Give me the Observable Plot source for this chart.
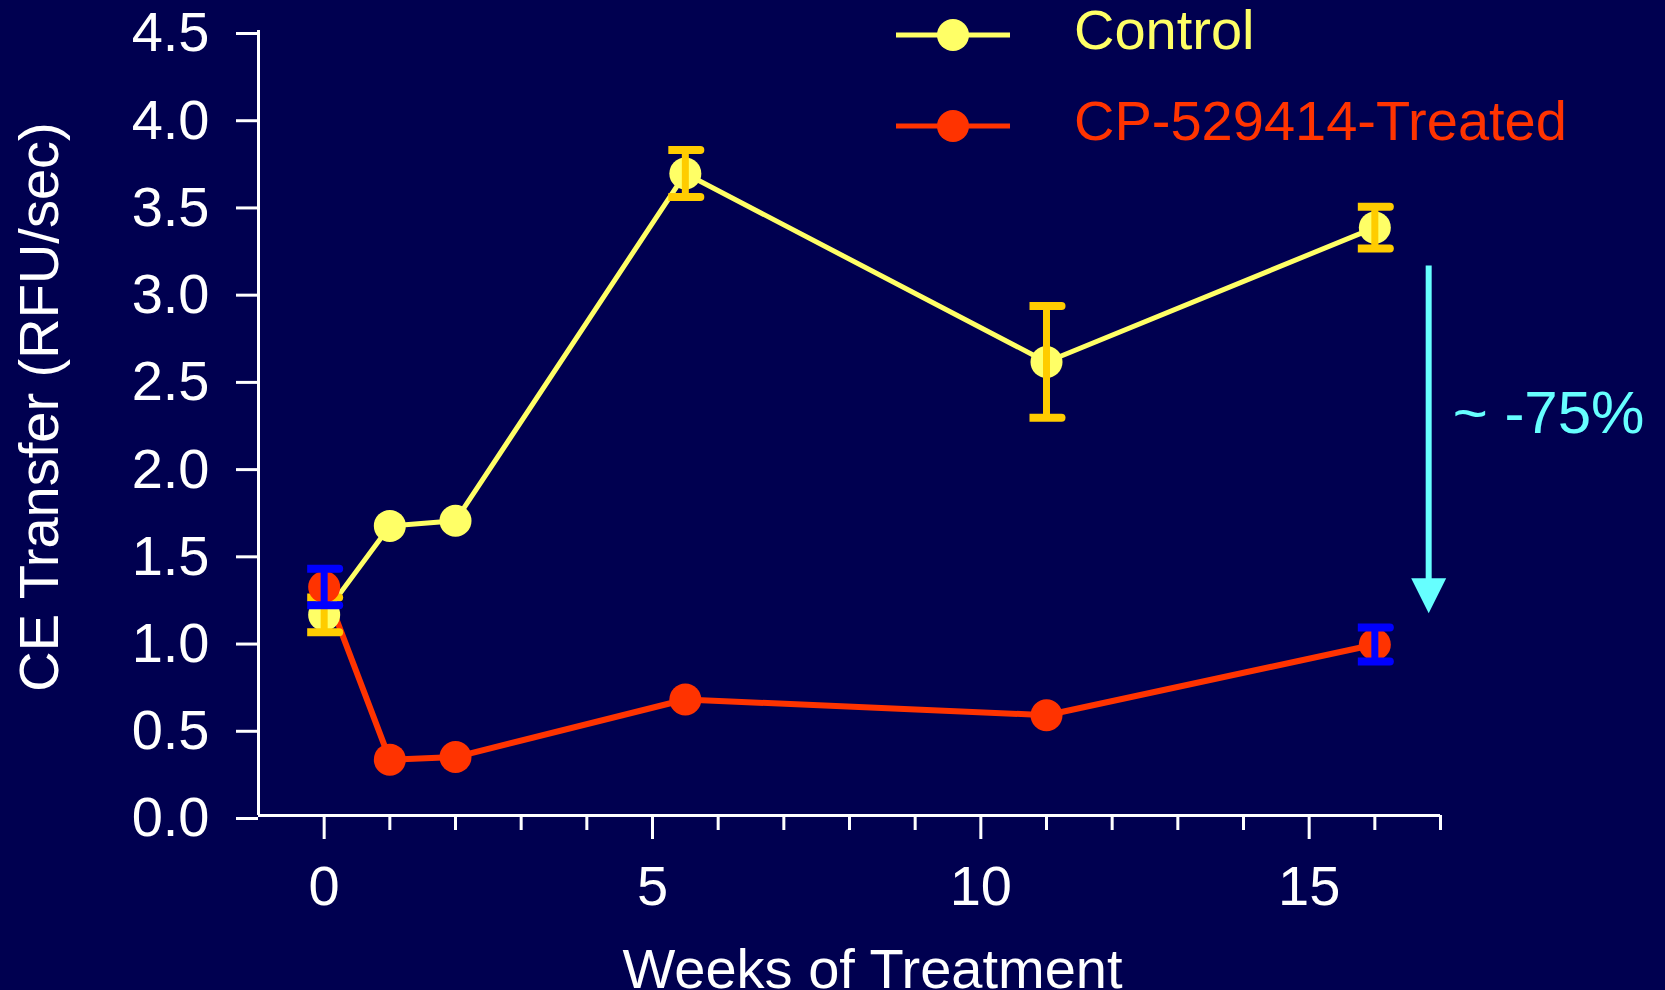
<!DOCTYPE html>
<html>
<head>
<meta charset="utf-8">
<script src="https://cdn.jsdelivr.net/npm/d3@7"></script>
<script src="https://cdn.jsdelivr.net/npm/@observablehq/plot@0.6"></script>
<style>
  html, body { margin: 0; padding: 0; background: #000050; }
  #chart { position: relative; width: 1665px; height: 990px; font-family: "Liberation Sans", Arial, sans-serif; }
  .legend-row { position: absolute; left: 896px; display: flex; align-items: center; white-space: nowrap; font-size: 56px; line-height: 34px; }
  .legend-row span { position: relative; top: -5px; margin-left: 64px; }
</style>
</head>
<body>
<div id="chart"></div>
<script>
// Weeks at which CE transfer was measured
const weeks = [0, 1, 2, 5.5, 11, 16];

// Mean CE transfer (RFU/sec) and SEM per group
const controlMean = [1.15, 1.66, 1.69, 3.68, 2.60, 3.37];
const controlSem  = [0.10, null, null, 0.135, 0.32, 0.12];
const treatedMean = [1.31, 0.32, 0.335, 0.665, 0.575, 0.98];
const treatedSem  = [0.105, null, null, null, null, 0.097];

const seriesNames = ["Control", "CP-529414-Treated"];
const lineColors  = ["#FFFF66", "#FF3300"];
const barColors   = ["#FFCC00", "#0000FF"];
const lineWidths  = [5, 6];

// Axes
const xDomain = [-1, 17];
const yDomain = [0, 4.5];
const xMajorTicks = [0, 5, 10, 15];
const xMinorTicks = [1, 2, 3, 4, 6, 7, 8, 9, 11, 12, 13, 14, 16, 17];
const yTicks = [0, 0.5, 1, 1.5, 2, 2.5, 3, 3.5, 4, 4.5];

// Annotation: reduction at week 16
const dropWeek = 16.82;
const dropFrom = 3.15;
const dropTo = 1.16;
const dropLabel = "~ -75%";
const dropLabelY = 2.30;
const dropColor = "#66FFFF";

const means = [controlMean, treatedMean];
const sems = [controlSem, treatedSem];
const series = seriesNames.map((name, s) => ({
  name,
  line: lineColors[s],
  bar: barColors[s],
  width: lineWidths[s],
  rows: weeks.map((w, i) => ({week: w, mean: means[s][i], sem: sems[s][i]}))
}));

// Error-bar cap: flat on the left, rounded on the right
const capSymbol = {
  draw(ctx) {
    ctx.moveTo(-17, -4);
    ctx.lineTo(15, -4);
    ctx.arc(15, 0, 4, -Math.PI / 2, Math.PI / 2);
    ctx.lineTo(-17, 4);
    ctx.closePath();
  }
};

// Filled arrowhead with its tip at the anchor point
const headSymbol = {
  draw(ctx) {
    ctx.moveTo(0, 0);
    ctx.lineTo(-17.5, -35);
    ctx.lineTo(17.5, -35);
    ctx.closePath();
  }
};

const marks = [];

// axis lines
marks.push(Plot.ruleX([xDomain[0]], {stroke: "white", strokeWidth: 3}));
marks.push(Plot.ruleY([yDomain[0]], {stroke: "white", strokeWidth: 3}));

marks.push(Plot.axisY({ticks: yTicks, tickSize: 22, tickPadding: 27, tickFormat: d3.format(".1f"),
  stroke: "white", fill: "white", strokeWidth: 3, label: null, dy: 3}));
marks.push(Plot.axisX({ticks: xMajorTicks, tickSize: 24, tickPadding: 26, tickFormat: d3.format("d"),
  stroke: "white", fill: "white", strokeWidth: 3, label: null}));
marks.push(Plot.axisX({ticks: xMinorTicks, tickSize: 15, tickFormat: () => "",
  stroke: "white", strokeWidth: 3, label: null}));

// connecting lines
for (const s of series) {
  marks.push(Plot.line(s.rows, {x: "week", y: "mean", stroke: s.line, strokeWidth: s.width}));
}

// points and error bars
for (const s of series) {
  const withSem = s.rows.filter(d => d.sem != null);
  marks.push(Plot.dot(s.rows, {x: "week", y: "mean", r: 16, fill: s.line}));
  marks.push(Plot.ruleX(withSem, {x: "week", y1: d => d.mean - d.sem, y2: d => d.mean + d.sem, stroke: s.bar, strokeWidth: 7}));
  marks.push(Plot.dot(withSem, {x: "week", y: d => d.mean + d.sem, symbol: capSymbol, fill: s.bar}));
  marks.push(Plot.dot(withSem, {x: "week", y: d => d.mean - d.sem, symbol: capSymbol, fill: s.bar}));
}

// reduction arrow and label
marks.push(Plot.ruleX([dropWeek], {y1: dropFrom, y2: dropTo, insetBottom: 30, stroke: dropColor, strokeWidth: 6}));
marks.push(Plot.dot([dropWeek], {x: d => d, y: dropTo, symbol: headSymbol, fill: dropColor}));
marks.push(Plot.text([dropLabel], {x: dropWeek, y: dropLabelY, text: d => d, dx: 24, textAnchor: "start",
  lineAnchor: "middle", fill: dropColor, fontSize: 60}));

// axis titles
marks.push(Plot.text(["CE Transfer (RFU/sec)"], {frameAnchor: "left", text: d => d, rotate: -90,
  dx: -218, dy: -16, textAnchor: "middle", lineAnchor: "middle", fill: "white", fontSize: 56}));
marks.push(Plot.text(["Weeks of Treatment"], {frameAnchor: "bottom", text: d => d,
  dx: 23, dy: 155, textAnchor: "middle", lineAnchor: "middle", fill: "white", fontSize: 56}));

const chart = Plot.plot({
  width: 1665,
  height: 990,
  marginLeft: 258,
  marginRight: 225,
  marginTop: 30,
  marginBottom: 175,
  x: {domain: xDomain},
  y: {domain: yDomain},
  style: {
    background: "#000050",
    color: "white",
    fontFamily: "'Liberation Sans', Arial, sans-serif",
    fontSize: "56px",
    overflow: "visible"
  },
  marks
});

const root = document.getElementById("chart");
root.appendChild(chart);

// legend: line-and-dot swatch followed by the series name
const rowTops = [18, 109];
series.forEach((s, i) => {
  const row = document.createElement("div");
  row.className = "legend-row";
  row.style.top = rowTops[i] + "px";
  row.innerHTML =
    `<svg width="114" height="34"><line x1="0" x2="114" y1="17" y2="17" stroke="${s.line}" stroke-width="5"/>` +
    `<circle cx="57" cy="17" r="16" fill="${s.line}"/></svg><span style="color:${s.line}">${s.name}</span>`;
  root.appendChild(row);
});
</script>
</body>
</html>
